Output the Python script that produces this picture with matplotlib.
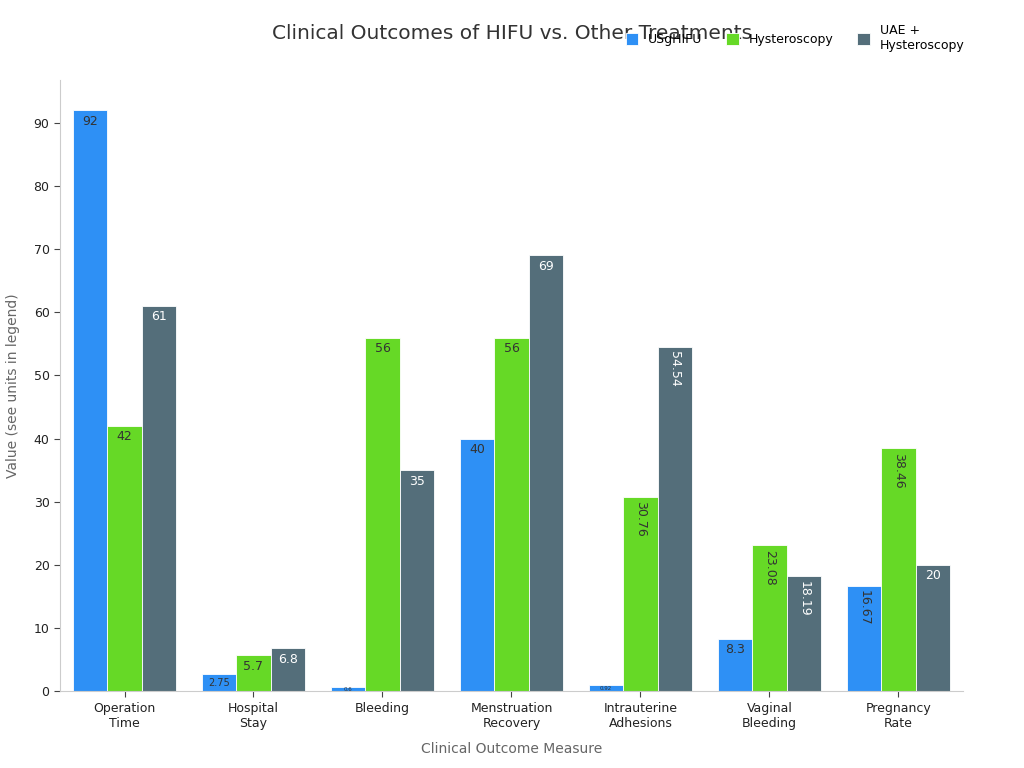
import numpy as np
import matplotlib.pyplot as plt

categories = ['Operation\nTime', 'Hospital\nStay', 'Bleeding', 'Menstruation\nRecovery',
              'Intrauterine\nAdhesions', 'Vaginal\nBleeding', 'Pregnancy\nRate']
series_names = ['USgHIFU', 'Hysteroscopy', 'UAE +\nHysteroscopy']
hifu = [92, 2.75, 0.6, 40, 0.92, 8.3, 16.67]
hysteroscopy = [42, 5.7, 56, 56, 30.76, 23.08, 38.46]
uae = [61, 6.8, 35, 69, 54.54, 18.19, 20]

colors = ['#2E90F5', '#66D926', '#546E7A']
text_colors = ['#333333', '#333333', 'white']

fig = plt.figure(figsize=(10.24, 7.68), dpi=100)
ax = fig.add_axes([0.0586, 0.100, 0.8818, 0.796])

x = np.arange(len(categories))
w = 0.8 / 3
handles = []
for i, (vals, name) in enumerate(zip([hifu, hysteroscopy, uae], series_names)):
    bars = ax.bar(x + (i - 1) * w, vals, w, color=colors[i], edgecolor='white', linewidth=0.6, label=name)
    handles.append(bars)
    for b, v in zip(bars, vals):
        lab = f'{v:g}'
        if v < 1:
            fs, rot = 4, 0
        elif v < 5:
            fs, rot = 7, 0
        elif len(lab) > 4:
            fs, rot = 9, 270
        else:
            fs, rot = 9, 0
        ax.text(b.get_x() + b.get_width() / 2, v - 0.7 if v > 1 else v / 2, lab,
                ha='center', va='top' if v > 1 else 'center', rotation=rot,
                fontsize=fs, color=text_colors[i])

ax.set_xlim(-0.5, len(categories) - 0.5)
ax.set_ylim(0, 96.8)
ax.set_xticks(x)
ax.set_xticklabels(categories, fontsize=9, color='#222222')
ax.set_yticks(range(0, 91, 10))
ax.tick_params(axis='y', labelsize=9, colors='#222222')
ax.tick_params(axis='both', color='#444444', length=4)
for s in ['top', 'right']:
    ax.spines[s].set_visible(False)
for s in ['left', 'bottom']:
    ax.spines[s].set_color('#cccccc')
ax.set_xlabel('Clinical Outcome Measure', fontsize=10, color='#666666', labelpad=9)
ax.set_ylabel('Value (see units in legend)', fontsize=10, color='#666666', labelpad=10)

fig.text(0.5, 0.956, 'Clinical Outcomes of HIFU vs. Other Treatments', ha='center', va='center',
         fontsize=14.5, color='#333333')
fig.legend(handles=handles, loc='upper left', bbox_to_anchor=(0.6, 0.983), ncol=3, frameon=False,
           fontsize=9, handlelength=1.0, handleheight=1.0, columnspacing=1.9, handletextpad=0.8)

fig.savefig('out.png', dpi=100)
